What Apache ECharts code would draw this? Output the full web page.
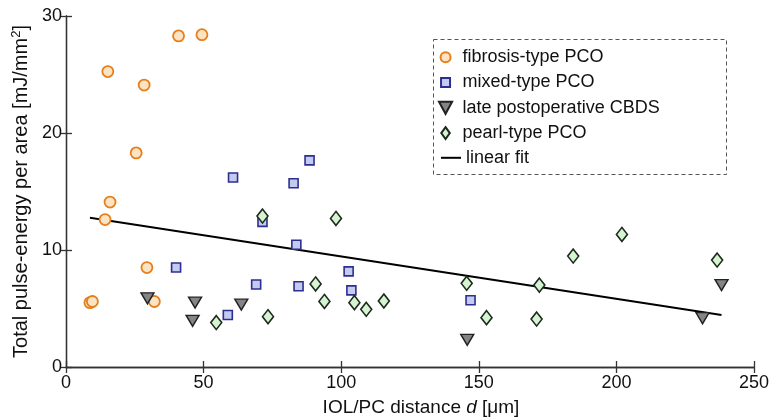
<!DOCTYPE html>
<html>
<head>
<meta charset="utf-8">
<script src="https://cdn.jsdelivr.net/npm/echarts@6/dist/echarts.min.js"></script>
<style>html,body{margin:0;padding:0;background:#fff}#c{width:772px;height:419px}</style>
</head>
<body>
<div id="c"></div>
<script>
var xTicks = [0, 50, 100, 150, 200, 250];
var yTicks = [0, 10, 20, 30];

var fibrosis = [
  [40.9, 28.3], [49.4, 28.4], [15.2, 25.25], [28.4, 24.1], [25.5, 18.3],
  [16.0, 14.1], [14.2, 12.6], [29.4, 8.5], [8.7, 5.5], [9.6, 5.6], [32.1, 5.6]
];
var mixed = [
  [60.7, 16.2], [40.0, 8.5], [58.8, 4.45], [69.1, 7.05], [88.5, 17.66],
  [82.7, 15.7], [71.4, 12.4], [83.7, 10.45], [84.5, 6.9], [102.7, 8.17],
  [103.7, 6.55], [147.0, 5.7]
];
var cbds = [
  [29.6, 5.87], [46.9, 5.5], [46.0, 3.94], [63.7, 5.33], [145.8, 2.32],
  [231.3, 4.17], [238.2, 7.0]
];
var pearl = [
  [54.6, 3.8], [71.4, 12.9], [98.1, 12.7], [73.4, 4.3], [90.7, 7.1],
  [93.9, 5.6], [104.8, 5.5], [109.1, 4.93], [115.5, 5.64], [145.6, 7.15],
  [152.8, 4.22], [171.0, 4.1], [172.0, 7.0], [184.3, 9.48], [202.0, 11.33],
  [236.6, 9.14]
];
var fit = [[8.7, 12.75], [238.2, 4.45]];

var names = ['fibrosis-type PCO', 'mixed-type PCO', 'late postoperative CBDS', 'pearl-type PCO', 'linear fit'];

var font = 'Liberation Sans, Arial, Helvetica, sans-serif';
var axisCol = '#333';

var chart = echarts.init(document.getElementById('c'), null, {renderer: 'canvas'});
chart.setOption({
  animation: false,
  backgroundColor: '#fff',
  textStyle: {fontFamily: font},
  grid: {left: 66, right: 18, top: 16, bottom: 52, containLabel: false, outerBoundsMode: 'none'},
  graphic: [{
    type: 'rect', left: 433, top: 39, z: 0,
    shape: {width: 293, height: 135},
    style: {fill: '#fff', stroke: '#555', lineWidth: 1, lineDash: [4, 3]}
  }],
  legend: [{
    orient: 'vertical', left: 438, top: 48.2, z: 10, padding: 0,
    itemWidth: 24, itemHeight: 12, itemGap: 7.3,
    textStyle: {fontFamily: font, fontSize: 18, color: '#111'},
    data: [
      {name: names[0], icon: 'path://M0,0M12,12M11,6A5,5,0,1,1,1,6A5,5,0,1,1,11,6Z'},
      {name: names[1], icon: 'path://M0,0M12,12M1.5,1.5L10.5,1.5L10.5,10.5L1.5,10.5Z'},
      {name: names[2], icon: 'path://M0,0L12,0L6,11Z'},
      {name: names[3], icon: 'path://M5,0L10,7L5,14L0,7Z'}
    ]
  }, {
    orient: 'vertical', left: 441, top: 148.8, z: 10, padding: 0,
    itemWidth: 20, itemHeight: 2, icon: 'rect',
    textStyle: {fontFamily: font, fontSize: 18, color: '#111'},
    data: names.slice(4)
  }],
  xAxis: [{
    type: 'value', min: 0, max: 250, interval: 50,
    name: 'IOL/PC distance {i|d} [\u03bcm]',
    nameLocation: 'middle', nameGap: 31,
    nameTextStyle: {fontFamily: font, fontSize: 19, color: '#111', padding: [0, 0, 0, 22],
      rich: {i: {fontStyle: 'italic', fontFamily: font, fontSize: 19, color: '#111'}}},
    axisLine: {show: true, lineStyle: {color: axisCol, width: 1.3}},
    axisTick: {show: true, inside: true, length: 6, lineStyle: {color: axisCol, width: 1.3}},
    axisLabel: {fontFamily: font, fontSize: 18, color: '#111', margin: 7,
      formatter: function (v) { return xTicks.indexOf(v) >= 0 ? String(v) : ''; }},
    splitLine: {show: false}
  }, {
    type: 'value', min: 0, max: 250, interval: 50, position: 'top',
    axisLine: {show: true, lineStyle: {color: axisCol, width: 1.3}},
    axisTick: {show: true, inside: true, length: 6, lineStyle: {color: axisCol, width: 1.3}},
    axisLabel: {show: false}, splitLine: {show: false}
  }],
  yAxis: [{
    type: 'value', min: 0, max: 30, interval: 10,
    name: '{a|Total pulse-energy per area [mJ/mm}{s|2}{a|]}',
    nameLocation: 'middle', nameGap: 25, nameRotate: 90,
    nameTextStyle: {fontFamily: font, fontSize: 20, color: '#111',
      rich: {
        a: {fontFamily: font, fontSize: 20, color: '#111', lineHeight: 22},
        s: {fontFamily: font, fontSize: 13, color: '#111', lineHeight: 22, verticalAlign: 'top', padding: [0, 0, 8, 0]}
      }},
    axisLine: {show: true, lineStyle: {color: axisCol, width: 1.3}},
    axisTick: {show: true, inside: true, length: 6, lineStyle: {color: axisCol, width: 1.3}},
    axisLabel: {fontFamily: font, fontSize: 18, color: '#111', margin: 4,
      formatter: function (v) { return yTicks.indexOf(v) >= 0 ? String(v) : ''; }},
    splitLine: {show: false}
  }, {
    type: 'value', min: 0, max: 30, interval: 10, position: 'right',
    axisLine: {show: true, lineStyle: {color: axisCol, width: 1.3}},
    axisTick: {show: true, inside: true, length: 6, lineStyle: {color: axisCol, width: 1.3}},
    axisLabel: {show: false}, splitLine: {show: false}
  }],
  series: [{
    name: names[0], type: 'scatter', data: fibrosis, symbol: 'circle', symbolSize: 11,
    itemStyle: {color: '#fce3c2', borderColor: '#e57f1c', borderWidth: 1.8, opacity: 1}
  }, {
    name: names[1], type: 'scatter', data: mixed, symbol: 'path://M0,0L10,0L10,10L0,10Z',
    symbolKeepAspect: true, symbolSize: 9,
    itemStyle: {color: '#c4cbf1', borderColor: '#2d2f8e', borderWidth: 1.6, opacity: 1}
  }, {
    name: names[2], type: 'scatter', data: cbds, symbol: 'path://M0,0L10,0L5,10Z',
    symbolKeepAspect: true, symbolSize: [13, 11],
    itemStyle: {color: '#858585', borderColor: '#222', borderWidth: 1.4, opacity: 1}
  }, {
    name: names[3], type: 'scatter', data: pearl, symbol: 'path://M5,0L10,5L5,10L0,5Z',
    symbolKeepAspect: true, symbolSize: [11, 14],
    itemStyle: {color: '#d6f4d2', borderColor: '#1d2b1d', borderWidth: 1.6, opacity: 1}
  }, {
    name: names[4], type: 'line', data: fit, symbol: 'none', showSymbol: false,
    lineStyle: {color: '#000', width: 2}, itemStyle: {color: '#000'}, z: 1
  }]
});
</script>
</body>
</html>
